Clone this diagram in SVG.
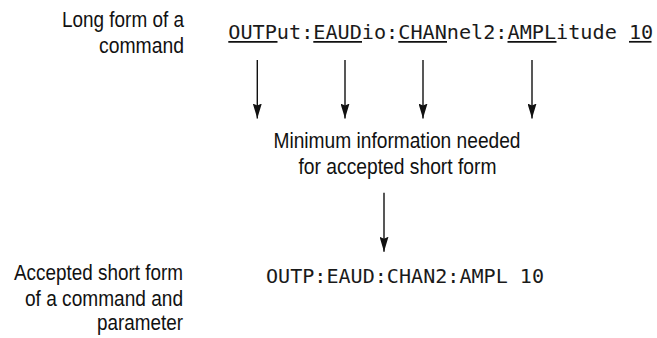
<svg xmlns="http://www.w3.org/2000/svg" width="657" height="338" viewBox="0 0 657 338">
<style>
.lbl{font-family:"Liberation Sans","Arial",sans-serif;font-size:22px;fill:#111}
.r{text-anchor:end}
.c{text-anchor:middle}
.mono{font-family:"DejaVu Sans Mono","Liberation Mono",monospace;font-size:20.2px;fill:#1a1a1a}
.ul{stroke:#111;stroke-width:1.7}
.arr{stroke:#111;stroke-width:1.4;fill:none;marker-end:url(#ah)}
</style>
<defs>
<marker id="ah" viewBox="0 0 15 9" refX="15" refY="4.5" markerWidth="15" markerHeight="9" markerUnits="userSpaceOnUse" orient="auto">
<path d="M0,0 L15,4.5 L0,9 L2,4.5 Z" fill="#111"/>
</marker>
</defs>
<rect width="657" height="338" fill="#fff"/>
<g id="label-long">
<text class="lbl r" x="184" y="27" textLength="122" lengthAdjust="spacingAndGlyphs">Long form of a</text>
<text class="lbl r" x="184" y="53" textLength="85" lengthAdjust="spacingAndGlyphs">command</text>
</g>
<g id="long-command">
<text class="mono" x="228.3" y="39.3" textLength="424.9" lengthAdjust="spacingAndGlyphs">OUTPut:EAUDio:CHANnel2:AMPLitude 10</text>
<line class="ul" x1="228.3" y1="41.8" x2="277.5" y2="41.8"/>
<line class="ul" x1="313.3" y1="41.8" x2="362" y2="41.8"/>
<line class="ul" x1="398.3" y1="41.8" x2="447" y2="41.8"/>
<line class="ul" x1="507.5" y1="41.8" x2="556.5" y2="41.8"/>
<line class="ul" x1="629" y1="41.8" x2="651.5" y2="41.8"/>
</g>
<g id="minimum">
<text class="lbl c" x="397" y="147.5" textLength="247" lengthAdjust="spacingAndGlyphs">Minimum information needed</text>
<text class="lbl c" x="397.5" y="173.5" textLength="198" lengthAdjust="spacingAndGlyphs">for accepted short form</text>
</g>
<g id="label-short">
<text class="lbl r" x="183" y="280" textLength="169" lengthAdjust="spacingAndGlyphs">Accepted short form</text>
<text class="lbl r" x="183" y="305.5" textLength="158" lengthAdjust="spacingAndGlyphs">of a command and</text>
<text class="lbl r" x="183" y="330" textLength="86" lengthAdjust="spacingAndGlyphs">parameter</text>
</g>
<g id="short-command">
<text class="mono" x="266" y="282.7" textLength="278" lengthAdjust="spacingAndGlyphs">OUTP:EAUD:CHAN2:AMPL 10</text>
</g>
<g id="connectors">
<line class="arr" x1="257.3" y1="60" x2="257.3" y2="118.5"/>
<line class="arr" x1="345" y1="60" x2="345" y2="118.5"/>
<line class="arr" x1="423" y1="60" x2="423" y2="118.5"/>
<line class="arr" x1="532" y1="60" x2="532" y2="118.5"/>
<line class="arr" x1="384" y1="192.7" x2="384" y2="251.7"/>
</g>
</svg>
